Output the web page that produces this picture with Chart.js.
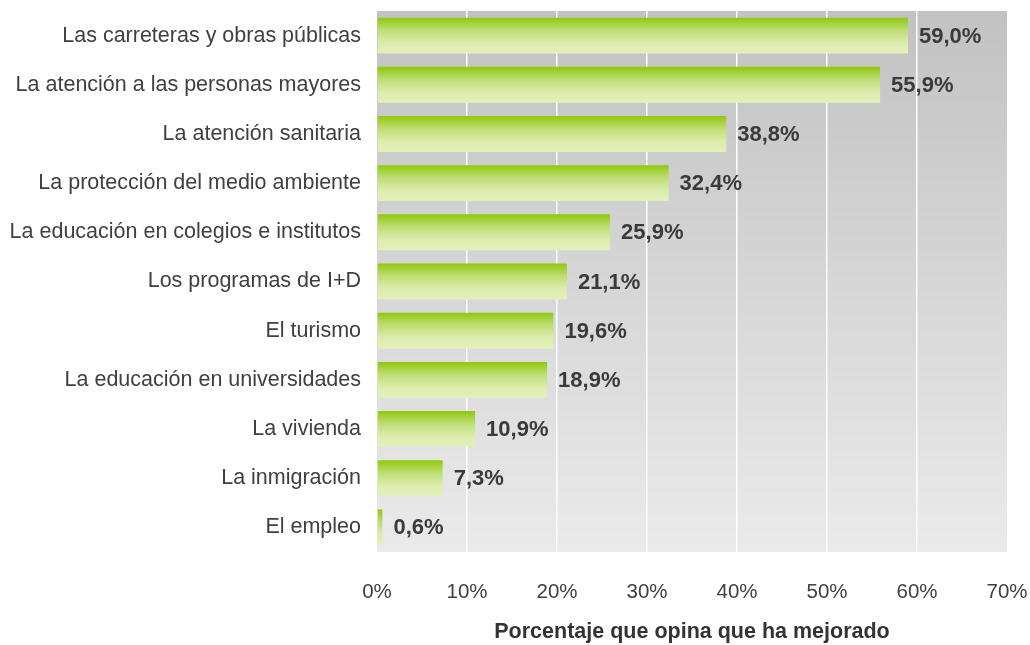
<!DOCTYPE html>
<html>
<head>
<meta charset="utf-8">
<script src="https://cdn.jsdelivr.net/npm/chart.js@4/dist/chart.umd.min.js"></script>
<style>
  html, body { margin: 0; padding: 0; background: #fff; }
  #wrap { width: 1030px; height: 645px; }
</style>
</head>
<body>
<div id="wrap"><canvas id="opinionChart" width="1030" height="645"></canvas></div>
<script>
const categories = [
  "Las carreteras y obras públicas",
  "La atención a las personas mayores",
  "La atención sanitaria",
  "La protección del medio ambiente",
  "La educación en colegios e institutos",
  "Los programas de I+D",
  "El turismo",
  "La educación en universidades",
  "La vivienda",
  "La inmigración",
  "El empleo",
];
const improvedPct = [59.0, 55.9, 38.8, 32.4, 25.9, 21.1, 19.6, 18.9, 10.9, 7.3, 0.6];
const xTicks = [0, 10, 20, 30, 40, 50, 60, 70];
const axisTitle = "Porcentaje que opina que ha mejorado";

const BAR_PCT = 0.73;
const FONT = "'Liberation Sans', Arial, sans-serif";

// grey gradient behind the plot area
const plotBackground = {
  id: "plotBackground",
  beforeDraw(chart) {
    const { ctx, chartArea: a } = chart;
    const g = ctx.createLinearGradient(0, a.top, 0, a.bottom);
    g.addColorStop(0, "#c2c2c2");
    g.addColorStop(1, "#eaeaea");
    ctx.save();
    ctx.fillStyle = g;
    ctx.fillRect(a.left, a.top, a.right - a.left, a.bottom - a.top);
    ctx.restore();
  },
};

// bold value labels at the end of each bar
const valueLabels = {
  id: "valueLabels",
  afterDatasetsDraw(chart) {
    const { ctx } = chart;
    const meta = chart.getDatasetMeta(0);
    ctx.save();
    ctx.font = "bold 22px " + FONT;
    ctx.fillStyle = "#3a3a3a";
    ctx.textBaseline = "middle";
    ctx.textAlign = "left";
    meta.data.forEach((bar, i) => {
      const txt = improvedPct[i].toFixed(1).replace(".", ",") + "%";
      ctx.fillText(txt, bar.x + 11, bar.y + 1);
    });
    ctx.restore();
  },
};

function barGradient(context) {
  const chart = context.chart;
  const yScale = chart.scales.y;
  if (!yScale || context.dataIndex === undefined) return "#b5d85a";
  const cy = yScale.getPixelForValue(context.dataIndex);
  const h = (yScale.height / categories.length) * BAR_PCT;
  if (!isFinite(cy) || !isFinite(h) || h <= 0) return "#b5d85a";
  const g = chart.ctx.createLinearGradient(0, cy - h / 2, 0, cy + h / 2);
  g.addColorStop(0, "#8fc80c");
  g.addColorStop(0.35, "#bedd74");
  g.addColorStop(0.7, "#dcecad");
  g.addColorStop(1, "#e3f0bb");
  return g;
}

const ctx = document.getElementById("opinionChart").getContext("2d");
new Chart(ctx, {
  type: "bar",
  data: {
    labels: categories,
    datasets: [
      {
        data: improvedPct,
        backgroundColor: barGradient,
        borderWidth: 0,
        barPercentage: BAR_PCT,
        categoryPercentage: 1,
      },
    ],
  },
  options: {
    indexAxis: "y",
    responsive: false,
    animation: false,
    layout: { padding: { top: 11, right: 23, bottom: 0, left: 0 } },
    scales: {
      x: {
        min: 0,
        max: 70,
        afterBuildTicks: (scale) => {
          scale.ticks = xTicks.map((v) => ({ value: v }));
        },
        afterFit: (scale) => {
          scale.height = 93;
          scale.paddingLeft = 0;
          scale.paddingRight = 0;
        },
        ticks: {
          color: "#404040",
          padding: 28,
          font: { family: FONT, size: 20.5 },
          callback: (v) => v + "%",
        },
        grid: {
          drawTicks: false,
          color: (c) => (c.tick && (c.tick.value === 0 || c.tick.value === 70) ? "rgba(0,0,0,0)" : "#ffffff"),
          lineWidth: 1.5,
        },
        border: { display: false },
        title: {
          display: true,
          text: axisTitle,
          color: "#333333",
          padding: { top: 0, bottom: 0 },
          font: { family: FONT, size: 21.5, weight: "bold" },
        },
      },
      y: {
        afterFit: (scale) => {
          scale.width = 377;
          scale.paddingTop = 0;
          scale.paddingBottom = 0;
        },
        ticks: {
          color: "#404040",
          padding: 16,
          font: { family: FONT, size: 21.5 },
        },
        grid: { display: false, drawTicks: false },
        border: { display: false },
      },
    },
    plugins: {
      legend: { display: false },
      tooltip: { enabled: false },
    },
  },
  plugins: [plotBackground, valueLabels],
});
</script>
</body>
</html>
